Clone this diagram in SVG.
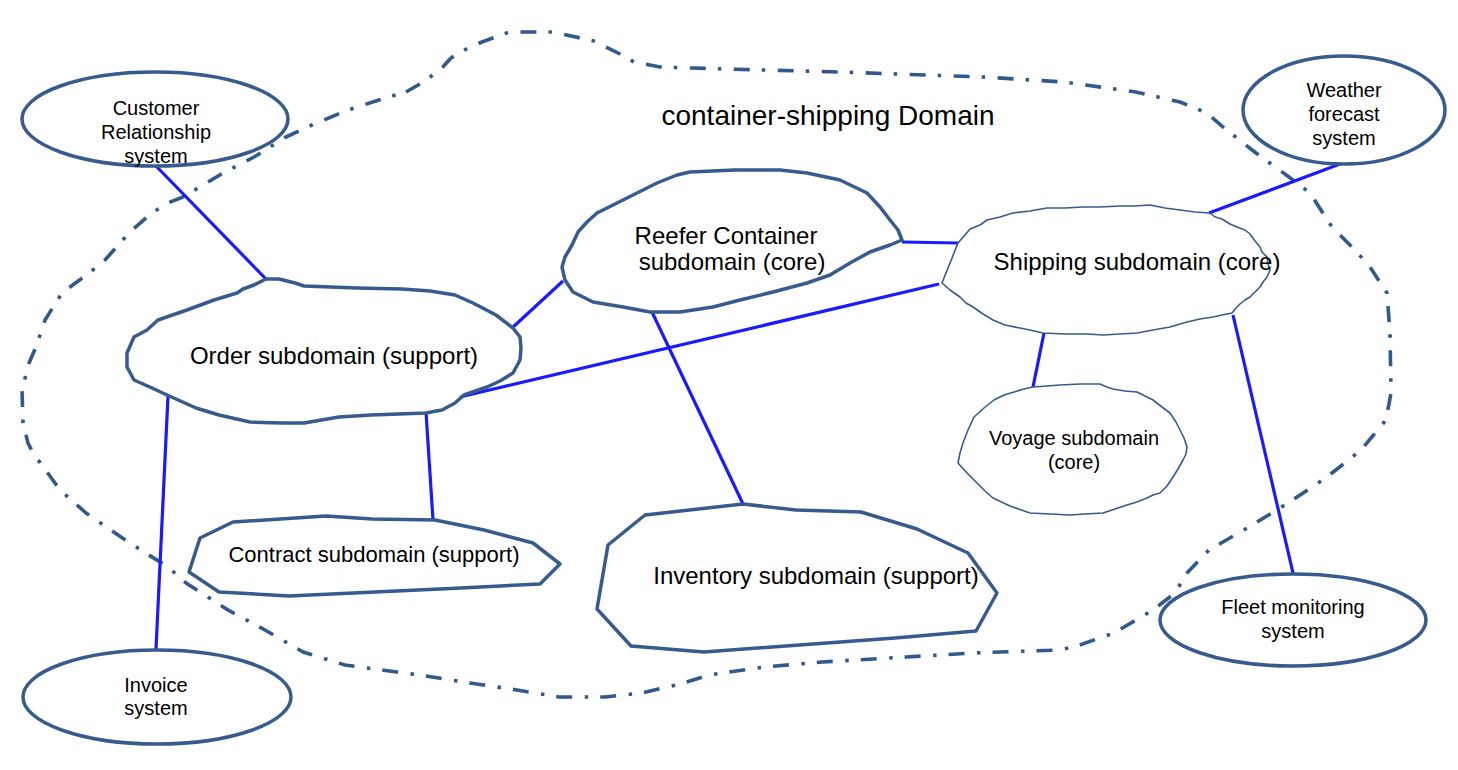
<svg xmlns="http://www.w3.org/2000/svg" width="1458" height="770" viewBox="0 0 1458 770">
<style>
  .bnd{fill:none;stroke:#31598c;stroke-width:3.6;stroke-dasharray:16 12 3.5 12.5;stroke-linejoin:round;stroke-linecap:butt}
  .sys{fill:none;stroke:#375b8c;stroke-width:3.5}
  .thick{fill:none;stroke:#375b8c;stroke-width:3.5;stroke-linejoin:round}
  .thin{fill:none;stroke:#375b8c;stroke-width:1.6;stroke-linejoin:round}
  .con{stroke:#1a1aff;stroke-width:3.2;stroke-linecap:butt}
  text{font-family:"Liberation Sans",Arial,sans-serif;fill:#000;text-anchor:middle}
  .t20{font-size:20px}
  .t22{font-size:22px}
  .t24{font-size:24px}
  .t28{font-size:28px}
</style>
<rect width="1458" height="770" fill="#fff"/>
<g id="domain">
  <polygon class="bnd" points="406,92 420,84 440,70 451,58 468,48 482,42 509,32 553,32 594,41 620,54 634,62 660,67 692,68 726,69 840,72 983,77 1064,82 1136,92 1180,102 1207,113 1223,127 1256,153 1289,177 1310,193 1332,227 1355,250 1370,267 1387,293 1390,333 1391,393 1386,420 1361,450 1327,477 1288,503 1249,527 1209,550 1187,573 1175,593 1153,610 1114,633 1074,647 1058,650 973,653 906,657 822,662 765,667 709,675 680,684 642,693 605,697 559,697 517,690 470,683 419,675 345,665 303,652 265,630 228,610 186,583 168,567 144,552 121,537 86,513 60,490 47,472 33,453 28,443 23,423 22,390 29,363 36,347 45,320 62,293 89,273 105,260 129,233 147,217 165,204 183,197 223,173 254,157 286,137 312,125 348,110 379,100"/>
  <text class="t28" x="828" y="125">container-shipping Domain</text>
</g>
<g id="connectors">
  <line class="con" x1="156" y1="166" x2="266" y2="279"/>
  <line class="con" x1="512" y1="328" x2="563" y2="281"/>
  <line class="con" x1="902" y1="242" x2="958" y2="243"/>
  <line class="con" x1="460" y1="397" x2="939" y2="284"/>
  <line class="con" x1="652" y1="312" x2="743" y2="504"/>
  <line class="con" x1="168" y1="396" x2="156" y2="649"/>
  <line class="con" x1="426" y1="412" x2="433" y2="520"/>
  <line class="con" x1="1044" y1="333" x2="1033" y2="387"/>
  <line class="con" x1="1209" y1="213" x2="1340" y2="164"/>
  <line class="con" x1="1233" y1="315" x2="1293" y2="573"/>
</g>
<g id="customer-relationship">
  <ellipse class="sys" cx="155" cy="119" rx="133" ry="47"/>
  <text class="t20" x="156" y="115">Customer</text>
  <text class="t20" x="156" y="139">Relationship</text>
  <text class="t20" x="156" y="163">system</text>
</g>
<g id="weather-forecast">
  <ellipse class="sys" cx="1344" cy="110" rx="101" ry="54"/>
  <text class="t20" x="1344" y="97">Weather</text>
  <text class="t20" x="1344" y="121">forecast</text>
  <text class="t20" x="1344" y="145">system</text>
</g>
<g id="fleet-monitoring">
  <ellipse class="sys" cx="1293" cy="620" rx="133" ry="46"/>
  <text class="t20" x="1293" y="614">Fleet monitoring</text>
  <text class="t20" x="1293" y="638">system</text>
</g>
<g id="invoice">
  <ellipse class="sys" cx="157" cy="697" rx="134" ry="47"/>
  <text class="t20" x="156" y="692">Invoice</text>
  <text class="t20" x="156" y="715">system</text>
</g>
<g id="order-subdomain">
  <polygon class="thick" points="266,279 279,279 295,283 304,286 357,288 402,289 430,291 455,295 473,303 496,315 513,328 520,337 521,348 520,360 513,373 500,381 487,387 464,395 455,403 442,410 426,413 371,415 339,417 304,423 281,423 250,422 219,415 196,408 167,395 152,388 134,380 127,367 127,353 134,337 147,330 158,320 187,310 214,300 237,293 243,289 254,285"/>
  <text class="t24" x="334" y="364">Order subdomain (support)</text>
</g>
<g id="reefer-subdomain">
  <polygon class="thick" points="690,172 735,170 780,170 807,173 840,180 867,193 880,207 890,220 898,230 902,240 890,245 870,252 850,263 830,275 807,283 773,292 740,300 713,307 680,312 650,312 623,307 593,302 573,292 565,280 562,267 565,257 572,245 578,232 587,222 597,213 617,203 637,193 657,183 677,175"/>
  <text class="t24" x="726" y="244">Reefer Container</text>
  <text class="t24" x="732" y="270">subdomain (core)</text>
</g>
<g id="shipping-subdomain">
  <polygon class="thin" points="958,243 965,235 970,229 980,225 987,220 1000,217 1013,213 1030,211 1047,208 1065,208 1083,207 1100,207 1120,206 1135,206 1150,205 1165,208 1180,210 1195,212 1210,213 1215,217 1222,219 1230,224 1237,227 1245,230 1250,234 1255,241 1260,247 1262,252 1267,257 1268,264 1270,270 1267,277 1263,282 1260,287 1255,292 1250,297 1245,300 1240,304 1236,308 1232,313 1222,315 1213,317 1200,319 1187,322 1170,327 1153,330 1137,333 1120,334 1103,335 1087,334 1065,334 1043,333 1030,330 1020,328 1005,325 993,320 983,314 973,307 966,303 960,297 950,290 942,283 946,273 950,263 954,253"/>
  <text class="t24" x="1137" y="270">Shipping subdomain (core)</text>
</g>
<g id="voyage-subdomain">
  <polygon class="thin" points="1033,387 1047,386 1060,385 1080,384 1100,384 1107,387 1113,389 1125,391 1137,392 1145,396 1153,400 1162,407 1170,413 1176,422 1180,430 1184,438 1187,447 1186,454 1183,460 1178,469 1173,477 1167,486 1160,493 1153,495 1147,498 1137,502 1127,505 1115,509 1103,513 1085,514 1070,515 1050,514 1030,513 1010,506 993,498 985,491 977,483 967,473 958,463 960,453 963,443 968,430 974,417 984,408 994,400 1004,395 1014,392 1024,389"/>
  <text class="t20" x="1074" y="445">Voyage subdomain</text>
  <text class="t20" x="1074" y="469">(core)</text>
</g>
<g id="contract-subdomain">
  <polygon class="thick" points="233,522 326,516 372,519 435,520 484,530 533,543 560,564 540,584 461,588 289,596 219,592 189,572 200,538"/>
  <text class="t22" x="374" y="562">Contract subdomain (support)</text>
</g>
<g id="inventory-subdomain">
  <polygon class="thick" points="645,515 743,504 796,510 861,512 917,529 968,553 997,593 976,631 895,638 704,652 631,646 597,609 608,545"/>
  <text class="t24" x="816" y="584">Inventory subdomain (support)</text>
</g>
</svg>
